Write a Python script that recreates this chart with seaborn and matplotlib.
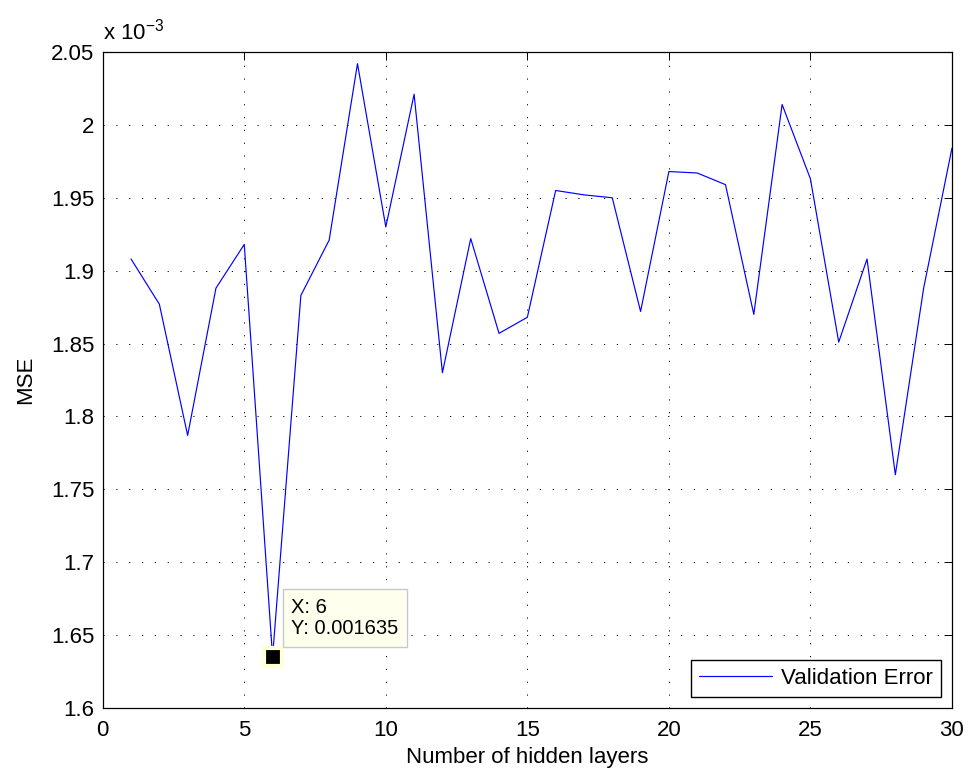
import matplotlib
matplotlib.use("Agg")
import matplotlib.pyplot as plt
import seaborn as sns
import pandas as pd

# ---- data (MSE values in units of 1e-3) ----
hidden_layers = list(range(1, 31))
mse_e3 = [1.908, 1.877, 1.787, 1.888, 1.918, 1.635, 1.883, 1.921, 2.042, 1.930,
          2.021, 1.830, 1.922, 1.857, 1.868, 1.955, 1.952, 1.950, 1.872, 1.968,
          1.967, 1.959, 1.870, 2.014, 1.963, 1.851, 1.908, 1.760, 1.888, 1.984]
x_ticks = [0, 5, 10, 15, 20, 25, 30]
y_ticks = [1.6, 1.65, 1.7, 1.75, 1.8, 1.85, 1.9, 1.95, 2.0, 2.05]
y_tick_labels = ["1.6", "1.65", "1.7", "1.75", "1.8", "1.85", "1.9", "1.95", "2", "2.05"]
tip_x = 6
tip_y_e3 = 1.635

df = pd.DataFrame({"layers": hidden_layers, "mse": mse_e3})

sns.set_style("white")
plt.rcParams["font.family"] = ["Liberation Sans", "DejaVu Sans"]
plt.rcParams["mathtext.fontset"] = "custom"
plt.rcParams["mathtext.rm"] = "Liberation Sans"
plt.rcParams["mathtext.it"] = "Liberation Sans"
plt.rcParams["text.color"] = "black"
plt.rcParams["axes.labelcolor"] = "black"

fig = plt.figure(figsize=(9.7, 7.75), dpi=100)
ax = fig.add_axes([0.1059, 0.0865, 0.8755, 0.8464])

sns.lineplot(data=df, x="layers", y="mse", ax=ax, color=(0, 0, 1),
             linewidth=0.85, label="Validation Error")

ax.set_xlim(0, 30)
ax.set_ylim(1.6, 2.05)
ax.set_xticks(x_ticks)
ax.set_xticklabels([str(v) for v in x_ticks])
ax.set_yticks(y_ticks)
ax.set_yticklabels(y_tick_labels)

ax.grid(True, color="black", linestyle=(0, (1.2, 12)), linewidth=0.7)
ax.tick_params(direction="in", length=6, width=0.7, top=True, right=True,
               labelsize=16, colors="black")
ax.tick_params(axis="x", pad=9)
ax.tick_params(axis="y", pad=6)
for s in ax.spines.values():
    s.set_color("black")
    s.set_linewidth(0.9)

ax.set_xlabel("Number of hidden layers", fontsize=16, labelpad=4, color="black")
ax.set_ylabel("MSE", fontsize=16, labelpad=11, color="black")

ax.text(0.0, 1.012, r"x 10$^{-3}$", transform=ax.transAxes, fontsize=16,
        ha="left", va="bottom", color="black")

# data tip
ax.plot([tip_x], [tip_y_e3], marker="s", markersize=13, markerfacecolor="black",
        markeredgecolor="#ffffd8", markeredgewidth=3, zorder=5)
ax.annotate(f"X: {tip_x}\nY: {tip_y_e3/1000:.6f}", xy=(tip_x, tip_y_e3),
            xytext=(13.5, 13.5), textcoords="offset points", ha="left",
            va="bottom", fontsize=14.5, linespacing=1.15, color="black",
            bbox=dict(boxstyle="square,pad=0.42", facecolor="#ffffee",
                      edgecolor="#c8c8c8", linewidth=1.0), zorder=6)

leg = ax.legend(loc="lower right", fontsize=16, frameon=True, fancybox=False,
                edgecolor="black", framealpha=1, handlelength=3.3,
                handletextpad=0.4, borderpad=0.35, borderaxespad=0.5)
leg.get_frame().set_linewidth(1.0)
for t in leg.get_texts():
    t.set_color("black")

fig.savefig("out.png", dpi=100)
